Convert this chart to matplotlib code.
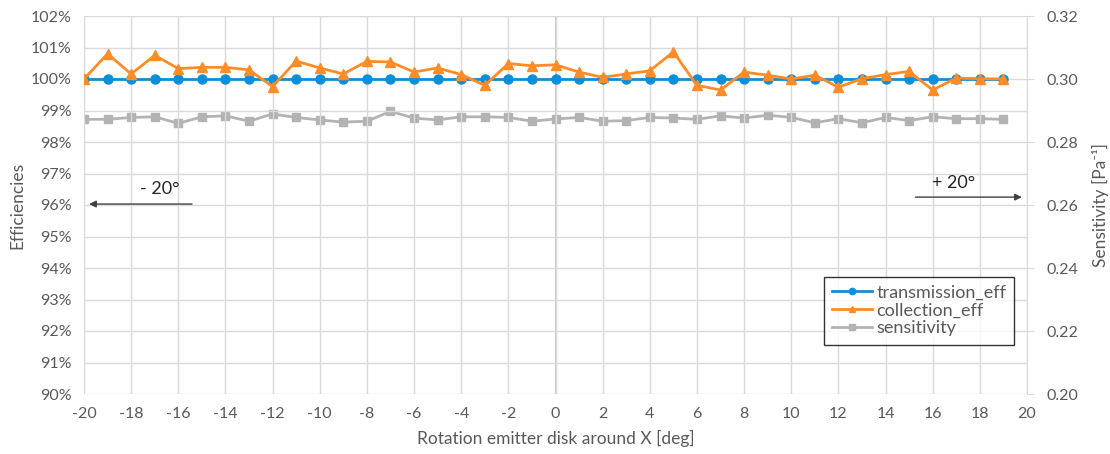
import numpy as np
import matplotlib
matplotlib.use("Agg")
import matplotlib.pyplot as plt

plt.rcParams['font.family'] = ['Lato', 'DejaVu Sans']
plt.rcParams['axes.unicode_minus'] = False

# rotation angles (deg)
angle = list(range(-20, 20))

# efficiencies in percent
transmission_eff = [100.0] * 40
collection_eff = [100.0, 100.8, 100.16, 100.75, 100.33, 100.37, 100.37, 100.29, 99.76, 100.57,
                  100.35, 100.16, 100.56, 100.54, 100.22, 100.35, 100.14, 99.8, 100.49, 100.42,
                  100.45, 100.22, 100.05, 100.16, 100.26, 100.86, 99.8, 99.65, 100.22, 100.12,
                  100.0, 100.12, 99.74, 100.01, 100.14, 100.24, 99.65, 100.03, 100.01, 100.0]
# sensitivity [1/Pa]
sensitivity = [0.2872, 0.2872, 0.2878, 0.2880, 0.2859, 0.2880, 0.2883, 0.2866, 0.2889, 0.2878,
               0.2870, 0.2863, 0.2866, 0.2897, 0.2876, 0.2870, 0.2880, 0.2880, 0.2878, 0.2866,
               0.2873, 0.2878, 0.2866, 0.2868, 0.2878, 0.2876, 0.2872, 0.2883, 0.2876, 0.2885,
               0.2878, 0.2861, 0.2874, 0.2861, 0.2878, 0.2868, 0.2880, 0.2874, 0.2874, 0.2872]

txt = '#595959'
grid = '#d9d9d9'

fig = plt.figure(figsize=(11.1, 4.54), dpi=100)
ax = fig.add_axes([84/1110, 1 - 394/454, (1027-84)/1110, (394-16)/454])
ax2 = ax.twinx()

ax.set_xlim(-20, 20)
ax.set_ylim(90, 102)
ax2.set_ylim(0.20, 0.32)
ax.set_xticks(np.arange(-20, 21, 2))
ax.set_yticks(np.arange(90, 103, 1))
ax.set_yticklabels([f'{v}%' for v in range(90, 103)])
ax2.set_yticks(np.arange(0.20, 0.321, 0.02))
ax2.set_yticklabels([f'{v:.2f}' for v in np.arange(0.20, 0.321, 0.02)])

ax.grid(True, color=grid, lw=1)
ax.axvline(0, color='#c4c4c4', lw=1.3, zorder=1)
for a in (ax, ax2):
    for s in a.spines.values():
        s.set_visible(False)
ax2.spines['right'].set_visible(True)
ax2.spines['right'].set_color(grid)
ax.tick_params(axis='both', length=0, colors=txt, labelsize=11.5, pad=9)
ax2.tick_params(axis='y', length=5, color=grid, colors=txt, labelsize=11.5, pad=9)

l3, = ax2.plot(angle, sensitivity, color='#b3b3b3', lw=2, marker='s', ms=5.5, label='sensitivity')
l1, = ax.plot(angle, transmission_eff, color='#0b8fd8', lw=2, marker='o', ms=6.5, label='transmission_eff', zorder=3)
l2, = ax.plot(angle, collection_eff, color='#ff8c26', lw=2, marker='^', ms=7, label='collection_eff', zorder=4)
ax.set_zorder(ax2.get_zorder() + 1)
ax.patch.set_visible(False)

ax.set_xlabel('Rotation emitter disk around X [deg]', color=txt, fontsize=12.5, labelpad=7)
ax.set_ylabel('Efficiencies', color=txt, fontsize=12.5, labelpad=4)
ax2.set_ylabel('Sensitivity [Pa⁻¹]', color=txt, fontsize=12.5, labelpad=10)

ax.annotate('', xy=(-19.9, 96.03), xytext=(-15.3, 96.03),
            arrowprops=dict(arrowstyle='-|>', color='#404040', lw=1, mutation_scale=10))
ax.text(-16.8, 96.25, '- 20°', fontsize=13, color='#262626', ha='center', va='bottom')
ax.annotate('', xy=(19.9, 96.25), xytext=(15.15, 96.25),
            arrowprops=dict(arrowstyle='-|>', color='#404040', lw=1, mutation_scale=10))
ax.text(16.9, 96.45, '+ 20°', fontsize=13, color='#262626', ha='center', va='bottom')

leg = ax.legend(handles=[l1, l2, l3], loc='lower right', bbox_to_anchor=(0.996, 0.107),
                frameon=True, fancybox=False, fontsize=13, handlelength=2.2,
                borderpad=0.45, labelspacing=0.1, handletextpad=0.25, markerscale=0.7)
leg.get_frame().set_edgecolor('black')
leg.get_frame().set_linewidth(1)
for t in leg.get_texts():
    t.set_color(txt)

fig.savefig('out.png', dpi=100)
